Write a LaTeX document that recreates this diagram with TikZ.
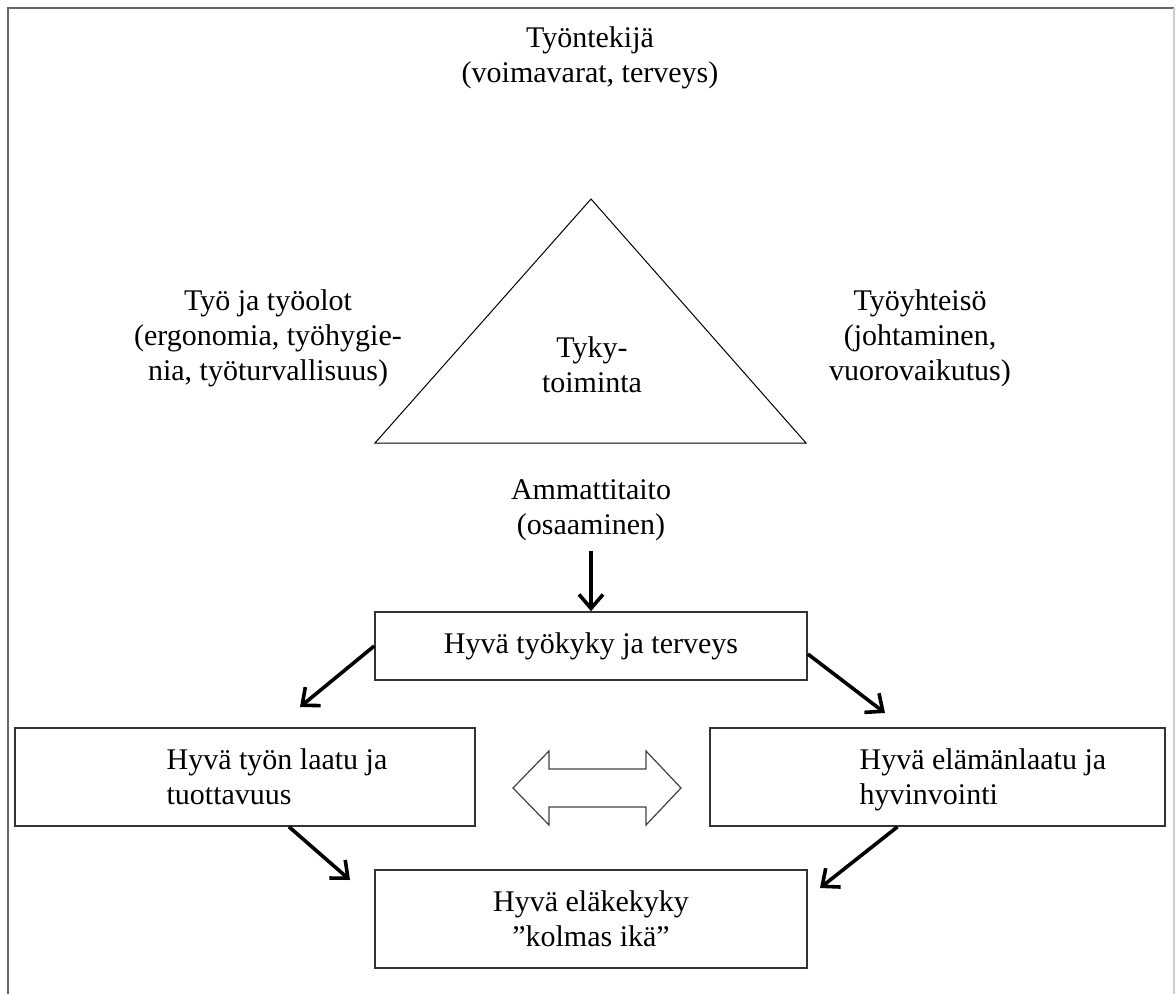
\documentclass[tikz,border=0pt]{standalone}
\usepackage{fontspec}
\setmainfont{Liberation Serif}
\usetikzlibrary{arrows.meta, positioning}

\begin{document}
\begin{tikzpicture}[x=0.5pt,y=-0.5pt,
    every node/.style={font=\fontsize{15}{17.5}\selectfont},
    lbl/.style={align=center, inner sep=0pt},
    box/.style={draw=black!80, line width=0.8pt, minimum width=#1, inner sep=0pt, align=center},
    arr/.style={-{Straight Barb[length=7pt,width=12pt]}, line width=1.8pt},
    frame/.style={draw=black!60, line width=1pt}]
    \useasboundingbox (0,0) rectangle (1176,994);

    % outer frame (open at the bottom)
    \draw[frame] (8,994) -- (8,8) -- (1174,8);
    \draw[draw=black!20, line width=0.6pt] (1174,8) -- (1174,994);

    % triangle
    \draw[line width=0.5pt] (375,443) -- (591,199) -- (806,443) -- cycle;
    \node[lbl] (tyky) at (592,365) {Tyky-\\toiminta};

    \node[lbl] (tekija) at (590,58) {Työntekijä\\(voimavarat, terveys)};
    \node[lbl] (tyo) at (268,338) {Työ ja työolot\\(ergonomia, työhygie-\\nia, työturvallisuus)};
    \node[lbl] (yhteiso) at (920,338) {Työyhteisö\\(johtaminen,\\vuorovaikutus)};
    \node[lbl, inner ysep=5pt] (amm) at (591,510) {Ammattitaito\\(osaaminen)};

    % boxes
    \node[box=216pt, minimum height=34pt] (kyky) at (591,646) {Hyvä työkyky ja terveys};
    \node[box=230pt, minimum height=49pt] (laatu) at (245,777) {};
    \node[lbl, align=left, anchor=west] (laatutxt) at ([xshift=76pt]laatu.west) {Hyvä työn laatu ja\\tuottavuus};
    \node[box=227.5pt, minimum height=49pt] (elama) at (937.5,777) {};
    \node[lbl, align=left, anchor=west] (elamatxt) at ([xshift=75pt,yshift=-1.5pt]elama.west) {Hyvä elämänlaatu ja\\hyvinvointi};
    \node[box=216pt, minimum height=49pt] (elake) at (591,919) {Hyvä eläkekyky\\”kolmas ikä”};

    % double arrow between the middle boxes
    \draw[draw=black!75, line width=0.6pt] (513,788) -- (549,751) -- (549,769) -- (646,769)
        -- (646,751) -- (681,788) -- (646,825) -- (646,807) -- (549,807) -- (549,825) -- cycle;

    % connectors
    \coordinate (kl) at (300,707);
    \coordinate (kr) at (885,713);
    \coordinate (ll) at (350,880);
    \coordinate (er) at (820,888);
    \draw[arr] (amm.south) -- (kyky.north);
    \draw[arr] (kyky.west) -- (kl);
    \draw[arr] ([yshift=-4pt]kyky.east) -- (kr);
    \draw[arr] ([xshift=22pt]laatu.south) -- (ll);
    \draw[arr] ([xshift=-20pt]elama.south) -- (er);
\end{tikzpicture}
\end{document}
